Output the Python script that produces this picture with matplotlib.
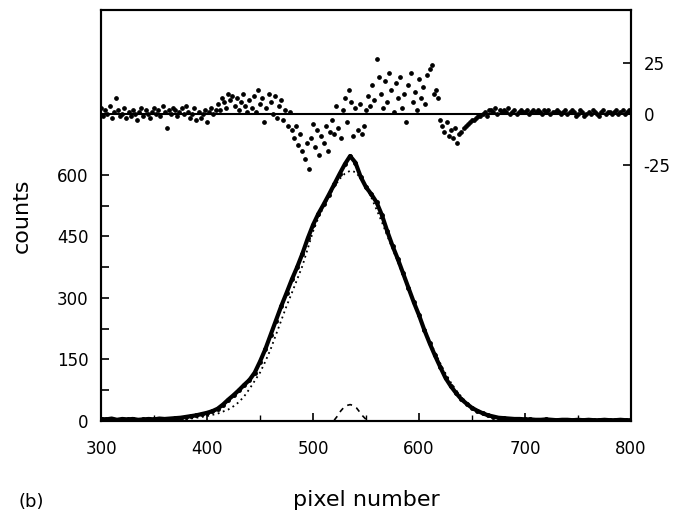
"""
Pixel profile with fit (dotted), small component (dashed) and fit residuals on top.
"""

import matplotlib
matplotlib.use("Agg")
import matplotlib.pyplot as plt
import numpy as np


# measured counts, every 5 pixels from 300 to 800
DATA_PIX = np.arange(300, 801, 5)
DATA_COUNTS = [
    5, 4, 6, 3, 5, 4, 5, 3, 4, 5,
    4, 6, 5, 6, 7, 8, 10, 12, 14, 17,
    20, 24, 30, 40, 52, 63, 75, 88, 100, 118,
    145, 175, 210, 245, 280, 312, 345, 375, 408, 445,
    478, 505, 528, 552, 577, 602, 626, 646, 630, 595,
    570, 553, 533, 502, 463, 427, 395, 360, 325, 290,
    258, 222, 190, 160, 132, 105, 85, 68, 53, 42,
    32, 25, 19, 14, 11, 8, 7, 6, 5, 5,
    4, 4, 3, 3, 4, 3, 2, 3, 3, 2,
    3, 2, 3, 2, 2, 3, 2, 2, 3, 2,
    2,
]

# fitted profile (dotted)
FIT_PIX = np.arange(380, 701, 5)
FIT_COUNTS = [
    4, 6, 8, 10, 12, 15, 18, 23, 28, 36,
    46, 60, 78, 98, 118, 145, 175, 210, 245, 280,
    312, 345, 378, 420, 462, 495, 522, 548, 570, 590,
    603, 610, 607, 592, 570, 545, 515, 485, 452, 420,
    388, 355, 322, 290, 258, 226, 196, 168, 141, 116,
    94, 75, 59, 45, 34, 26, 19, 14, 10, 7,
    5, 4, 3, 2, 2,
]

# small component (dashed)
COMP_PIX = [520, 523, 526, 529, 532, 535, 538, 541, 544, 547, 550, 552]
COMP_COUNTS = [2, 12, 24, 33, 38, 40, 38, 32, 22, 12, 4, 0]

# residuals, every 2 pixels from 300 to 800
RES_PIX = np.arange(300, 801, 2)
RESIDUALS = [
    3, -1, 2, 0, 4, -2, 1, 8, 2, -1,
    0, 3, -2, 1, -1, 2, 0, -3, 1, 3,
    -1, 2, 0, -2, 1, 3, 0, 2, -1, 4,
    1, -7, 2, 0, 3, 2, -1, 1, 3, 0,
    4, 1, -2, 0, 3, -3, 1, -2, 0, 2,
    -4, 1, 3, 0, 2, 5, 2, 8, 6, 3,
    10, 7, 9, 4, 8, 2, 6, 10, 4, 1,
    7, 3, 9, 1, 12, 5, 8, -4, 3, 10,
    6, 0, 9, -2, 4, 7, -3, 2, -6, 1,
    -8, -12, -6, -15, -10, -18, -22, -14, -27, -12,
    -5, -16, -8, -20, -11, -14, -6, -18, -9, -3,
    -10, 4, -7, -12, 2, 8, -4, 12, 6, -11,
    3, -8, 5, -10, -6, 2, 9, 4, 14, 7,
    27, 18, 10, 3, 16, 6, 20, 12, 1, 15,
    8, 18, 3, 10, -4, 14, 20, 6, 11, 2,
    17, 8, 13, 5, 19, 22, 24, 10, 12, 8,
    -3, -6, -9, -4, -11, -8, -12, -7, -14, -10,
    -9, -7, -6, -5, -4, -3, -3, -2, -1, -1,
    0, 1, -1, 2, 2, 1, 3, 0, 2, 1,
    2, 1, 3, 0, 1, 2, 0, 1, 2, 1,
    1, 2, 0, 1, 2, 1, 2, 1, 0, 2,
    1, 2, 0, 1, 1, 2, 1, 0, 1, 2,
    0, 1, 2, 1, -1, 0, 2, 1, -1, 0,
    1, 0, 2, 1, 0, -1, 1, 2, 0, 1,
    1, 0, 1, 2, 0, 1, 2, 0, 1, 2,
    1,
]

X_TICKS = [300, 400, 500, 600, 700, 800]
Y_TICKS = [0, 75, 150, 225, 300, 375, 450, 525, 600]
Y_TICK_LABELS = ["0", "", "150", "", "300", "", "450", "", "600"]
RES_TICKS = [-25, 0, 25]
RES_TICK_LABELS = ["-25", "0", "25"]


def main():
    plt.rcParams["font.family"] = "DejaVu Sans"
    plt.rcParams["font.size"] = 12

    fig = plt.figure(figsize=(6.74, 5.12), dpi=100)
    ax = fig.add_axes([0.1499, 0.1777, 0.7863, 0.8028])

    ax.plot(DATA_PIX, DATA_COUNTS, color="black", linewidth=3.0,
            marker="o", markersize=2.5, zorder=3)
    ax.plot(FIT_PIX, FIT_COUNTS, color="black", linewidth=1.3,
            linestyle=(0, (1, 2)), zorder=2)
    ax.plot(COMP_PIX, COMP_COUNTS, color="black", linewidth=1.2,
            linestyle=(0, (3, 3)), zorder=2)

    ax.set_xlim(300, 800)
    ax.set_ylim(0, 1002)
    ax.set_xticks(X_TICKS)
    ax.set_xticks(np.arange(350, 800, 100), minor=True)
    ax.set_yticks(Y_TICKS)
    ax.set_yticklabels(Y_TICK_LABELS)
    ax.tick_params(which="both", direction="in")
    ax.tick_params(axis="x", which="major", length=6, width=1.2, pad=14)
    ax.tick_params(axis="x", which="minor", length=4, width=1.0)
    ax.tick_params(axis="y", length=6, width=1.2, pad=9)
    for side in ax.spines.values():
        side.set_linewidth(1.5)

    ax.set_xlabel("pixel number", fontsize=16, labelpad=23)
    ax.set_ylabel("counts", fontsize=16, labelpad=18)

    # residuals on a second scale
    rax = ax.twinx()
    rax.axhline(0, color="black", linewidth=1.5, zorder=1)
    rax.plot(RES_PIX, RESIDUALS, linestyle="none", marker="o",
             markersize=2.4, color="black", zorder=3)
    rax.set_ylim(-150.5, 51)
    rax.set_yticks(RES_TICKS)
    rax.set_yticklabels(RES_TICK_LABELS)
    rax.tick_params(axis="y", direction="in", length=6, width=1.2, pad=9)
    for side in rax.spines.values():
        side.set_linewidth(1.5)

    fig.text(0.027, 0.01, "(b)", fontsize=13)

    fig.savefig("out.png", dpi=100)
    plt.close(fig)


if __name__ == "__main__":
    main()
